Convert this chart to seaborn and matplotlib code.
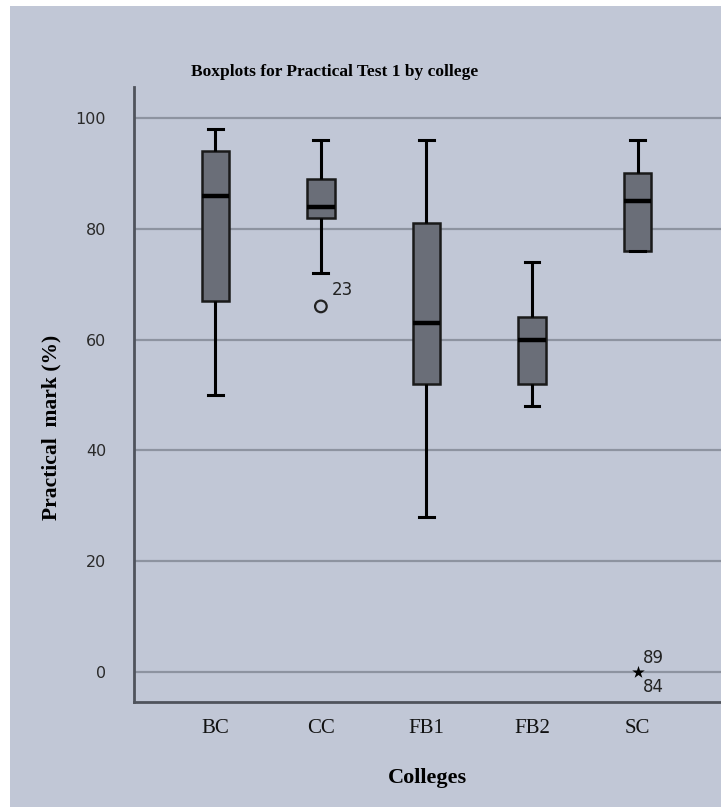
import matplotlib
matplotlib.use("Agg")
import matplotlib.pyplot as plt
import seaborn as sns
import pandas as pd
import numpy as np

# ---- data ----
colleges = ["BC", "CC", "FB1", "FB2", "SC"]
whisker_low = [50, 72, 28, 48, 76]
q1 = [67, 82, 52, 52, 76]
median = [86, 84, 63, 60, 85]
q3 = [94, 89, 81, 64, 90]
whisker_high = [98, 96, 96, 74, 96]

outlier_college = ["CC", "SC"]
outlier_value = [66, 0]
outlier_kind = ["mild", "extreme"]
outlier_labels = [["23"], ["89", "84"]]

yticks = [0, 20, 40, 60, 80, 100]

# Build a dataset whose quartiles / whiskers reproduce the five-number summaries
rows = []
for c, lo, a, m, b, hi in zip(colleges, whisker_low, q1, median, q3, whisker_high):
    vals = [lo] + [a] * 10 + [m] * 10 + [b] * 10 + [hi]
    rows += [(c, v) for v in vals]
df = pd.DataFrame(rows, columns=["College", "Mark"])

bg = "#c1c7d6"
fig = plt.figure(figsize=(7.21, 8.07), dpi=100, facecolor="white")
W, H = 721, 807
# gray panel
fig.patches.append(plt.Rectangle((10 / W, 0), 1 - 10 / W, 1 - 6 / H,
                                 transform=fig.transFigure, facecolor=bg,
                                 edgecolor="none", zorder=-10))

ax = fig.add_axes([134 / W, 1 - 702 / H, (W - 134) / W, (702 - 87) / H])
ax.set_facecolor(bg)
ax.set_zorder(1)

sns.boxplot(data=df, x="College", y="Mark", order=colleges, ax=ax,
            width=0.26, showfliers=False, whis=1.5,
            boxprops=dict(facecolor="#6a6e78", edgecolor="#1a1a1a", linewidth=1.8),
            medianprops=dict(color="black", linewidth=3.2),
            whiskerprops=dict(color="black", linewidth=2.2),
            capprops=dict(color="black", linewidth=2.2),
            capwidths=0.14, zorder=3)

# outliers
odf = pd.DataFrame({"College": outlier_college, "Mark": outlier_value, "Kind": outlier_kind})
pos = {c: i for i, c in enumerate(colleges)}
odf["x"] = odf["College"].map(pos)
sns.scatterplot(data=odf[odf.Kind == "mild"], x="x", y="Mark", ax=ax, marker="o",
                s=70, facecolor="none", edgecolor="#222222", linewidth=1.6, zorder=4)
sns.scatterplot(data=odf[odf.Kind == "extreme"], x="x", y="Mark", ax=ax, marker="*",
                s=90, color="black", linewidth=0, zorder=4)

for c, v, labs in zip(outlier_college, outlier_value, outlier_labels):
    x = pos[c]
    if len(labs) == 1:
        ax.text(x + 0.1, v + 1.4, labs[0], fontsize=12, color="#222222",
                family="DejaVu Sans", va="bottom", ha="left")
    else:
        ax.text(x + 0.05, v + 1.0, labs[0], fontsize=12, color="#222222",
                family="DejaVu Sans", va="bottom", ha="left")
        ax.text(x + 0.05, v - 1.0, labs[1], fontsize=12, color="#222222",
                family="DejaVu Sans", va="top", ha="left")

ax.set_ylim(-5.4, 105.6)
ax.set_xlim(-0.77, 4.79)
ax.set_yticks(yticks)
ax.set_yticklabels([str(t) for t in yticks], family="DejaVu Sans", fontsize=11.5, color="#2a2a2a")
ax.set_xticks(range(len(colleges)))
ax.set_xticklabels(colleges, family="Liberation Serif", fontsize=15, color="#111111")
ax.tick_params(axis="both", length=0, pad=12)
ax.tick_params(axis="y", pad=20)
ax.yaxis.grid(True, color="#8d93a0", linewidth=1.6, zorder=1)
ax.set_axisbelow(True)
for s in ["top", "right"]:
    ax.spines[s].set_visible(False)
for s in ["left", "bottom"]:
    ax.spines[s].set_color("#4f535c")
    ax.spines[s].set_linewidth(2)

ax.set_xlabel("Colleges", family="Liberation Serif", fontweight="bold", fontsize=16, labelpad=22)
ax.set_ylabel("Practical  mark (%)", family="Liberation Serif", fontweight="bold", fontsize=15.5)
ax.yaxis.set_label_coords(-(134 - 61) / (W - 134), (702 - 427) / (702 - 87))
fig.text(335 / W, 1 - 72 / H, "Boxplots for Practical Test 1 by college",
         family="Liberation Serif", fontweight="bold", fontsize=12.5, ha="center", va="center")

fig.savefig("out.png", dpi=100, facecolor="white")
